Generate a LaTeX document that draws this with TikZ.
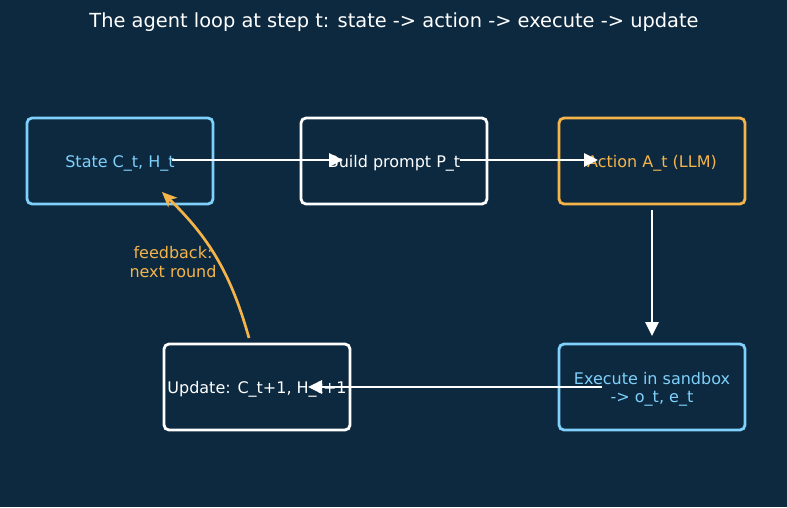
\documentclass[tikz,border=0pt]{standalone}
\usepackage{fontspec}
\setmainfont{DejaVu Sans}
\usetikzlibrary{arrows.meta}
\definecolor{bg}{HTML}{0C2940}
\definecolor{lblue}{HTML}{7FD0FA}
\definecolor{orng}{HTML}{F5B44A}
\newcommand\lowr[1]{\raisebox{-2.5pt}[\height][\depth]{#1}}
\tikzset{
  box/.style={draw=#1, line width=2.8pt, rounded corners=5pt, minimum width=186pt, minimum height=86pt, inner sep=0pt, font=\fontsize{16}{18.5}\selectfont, align=center},
  conn/.style={draw=white, line width=2.7pt, -{Triangle[length=14pt,width=13pt]}},
  fb/.style={draw=orng, line width=2.7pt, -{Stealth[length=15pt,width=13pt,inset=4pt]}}
}
\begin{document}
\begin{tikzpicture}[x=1pt,y=-1pt]
\fill[bg] (0,0) rectangle (787,507);
\useasboundingbox (0,0) rectangle (787,507);
\node[font=\fontsize{19.4}{22}\selectfont, text=white] (title) at (394,22) {The agent loop at step t: state -> action -> execute -> update};
\node[box=lblue, text=lblue] (s) at (120,161) {\lowr{State C\_t, H\_t}};
\node[box=white, text=white] (b) at (394,161) {\lowr{Build prompt P\_t}};
\node[box=orng, text=orng] (a) at (652,161) {\lowr{Action A\_t (LLM)}};
\node[box=lblue, text=lblue] (e) at (652,387) {\lowr{Execute in sandbox}\\\lowr{-> o\_t, e\_t}};
\node[box=white, text=white] (u) at (257,387) {\lowr{Update: C\_t+1, H\_t+1}};
\node[font=\fontsize{16}{18.5}\selectfont, text=orng, align=center] (fl) at (173,262) {feedback:\\next round};
\draw[conn] ([xshift=52pt,yshift=1pt]s.center) -- ([xshift=-51pt,yshift=1pt]b.center);
\draw[conn] ([xshift=66pt,yshift=1pt]b.center) -- ([xshift=-54pt,yshift=1pt]a.center);
\draw[conn] ([yshift=-49pt]a.center) -- ([yshift=51pt]e.center);
\draw[conn] ([xshift=-50pt]e.center) -- ([xshift=51pt]u.center);
\draw[fb] ([xshift=-8pt,yshift=49pt]u.center) to[bend right=15] ([xshift=42pt,yshift=-31pt]s.center);
\end{tikzpicture}
\end{document}
